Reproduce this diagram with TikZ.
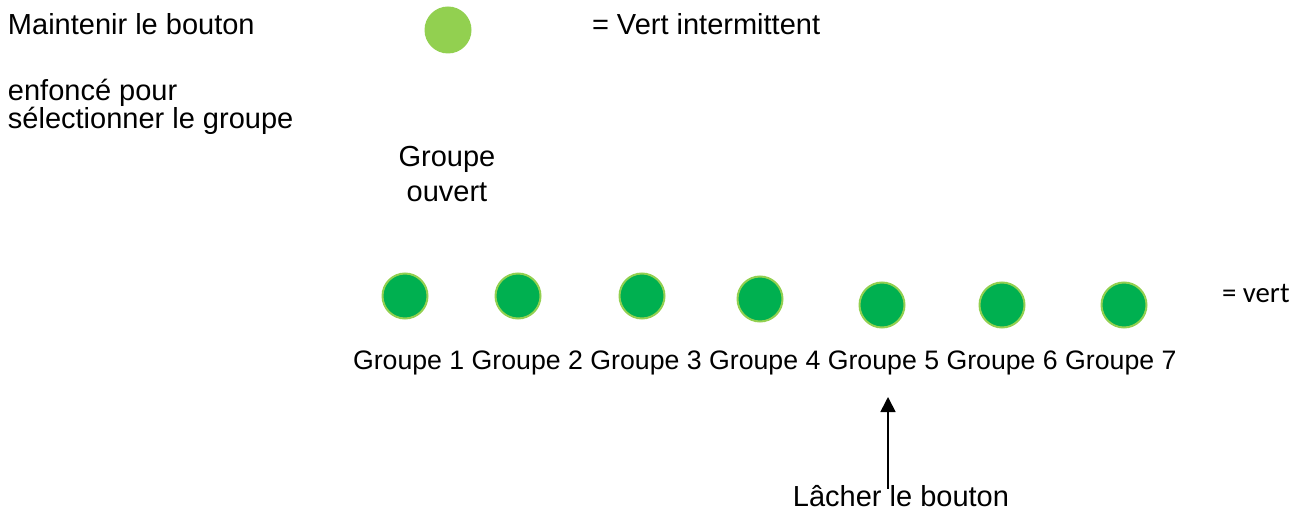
\documentclass[tikz,border=0pt]{standalone}
\usepackage{fontspec}
\setmainfont{Liberation Sans}
\newfontfamily\carlito{Carlito}
\usetikzlibrary{arrows.meta}
\definecolor{vertclair}{HTML}{92D050}
\definecolor{vertfonce}{HTML}{00B050}
\begin{document}
\begin{tikzpicture}[x=1pt,y=-1pt,
  every node/.style={inner sep=0pt,outer sep=0pt},
  txt/.style={font=\fontsize{29}{27}\selectfont},
  lbl/.style={font=\fontsize{26.7}{30}\selectfont,anchor=base west},
  led/.style={circle,fill=vertfonce,draw=vertclair,line width=2pt,minimum size=45pt},
  fleche/.style={-{Triangle[length=15pt,width=15pt]},line width=1.6pt}]
\useasboundingbox (0,0) rectangle (1306,510);
% legende
\node[txt,anchor=base west] (maint) at (8,35) {Maintenir le bouton};
\node[txt,anchor=base west,align=left] (enf) at (8,129) {enfonc\'e pour\\s\'electionner le groupe};
\node[circle,fill=vertclair,minimum size=47pt] (clign) at (448,30) {};
\node[txt,anchor=base west] (vint) at (592,35) {= Vert intermittent};
\node[font=\fontsize{29}{35}\selectfont,align=center,anchor=base] (ouvert) at (447,202) {Groupe\\ouvert};
% groupes
\foreach \i/\x/\y in {1/405/296,2/518/296,3/642/296,4/760/299,5/882/305,6/1002/305,7/1124/305}
  \node[led] (c\i) at (\x,\y) {};
\foreach \i in {1,...,7}
  \node[lbl] (g\i) at ({353+(\i-1)*118.7},370) {Groupe \i};
\node[anchor=base west,font=\carlito\fontsize{28.8}{30}\selectfont] (vert) at (1222,303) {= vert};
% relacher
\node[txt,anchor=base] (lacher) at (901,506) {L\^acher le bouton};
\coordinate (tip) at (888,397);
\draw[fleche] ([yshift=-4pt]lacher.north -| tip) -- (tip);
\end{tikzpicture}
\end{document}
